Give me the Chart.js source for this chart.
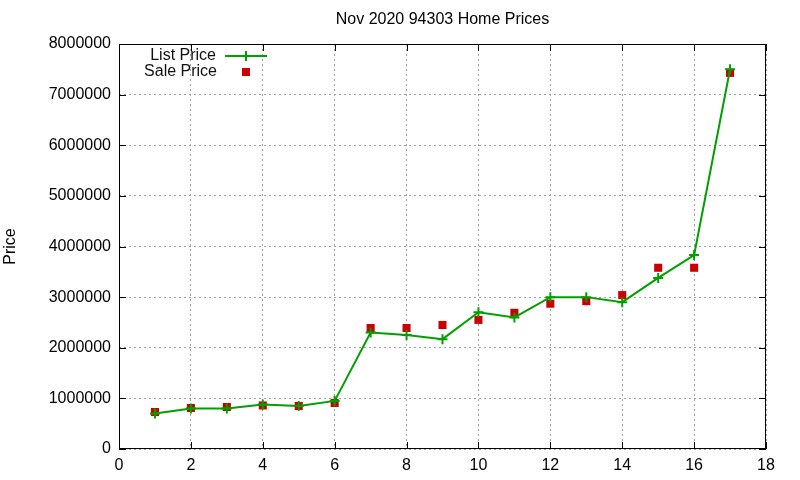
<!DOCTYPE html>
<html>
<head>
<meta charset="utf-8">
<script src="https://cdn.jsdelivr.net/npm/chart.js@4/dist/chart.umd.min.js"></script>
<style>
  html, body { margin: 0; padding: 0; background: #fff; }
  #wrap { width: 800px; height: 480px; }
</style>
</head>
<body>
<div id="wrap"><canvas id="priceChart"></canvas></div>
<script>
const titleText = "Nov 2020 94303 Home Prices";
const homeIndex = [1, 2, 3, 4, 5, 6, 7, 8, 9, 10, 11, 12, 13, 14, 15, 16, 17];
const listPrice = [700000, 800000, 800000, 880000, 850000, 950000, 2300000, 2250000, 2170000,
  2700000, 2600000, 3000000, 3000000, 2900000, 3380000, 3830000, 7500000];
const salePrice = [730000, 810000, 830000, 860000, 850000, 910000, 2390000, 2390000, 2450000,
  2550000, 2690000, 2870000, 2920000, 3040000, 3580000, 3580000, 7430000];

const FONT = "'Liberation Sans', Arial, sans-serif";
const FSIZE = 16;
const GREEN = "#00a000";
const RED = "#cc0000";

const toPoints = (vals) => homeIndex.map((x, i) => ({ x: x, y: vals[i] }));

// gnuplot-like frame: border, inward ticks on all four sides, title and key
const framePlugin = {
  id: "frame",
  afterDraw(chart) {
    const ctx = chart.ctx;
    const a = chart.chartArea;
    const xs = chart.scales.x, ys = chart.scales.y;
    ctx.save();
    ctx.strokeStyle = "#000";
    ctx.lineWidth = 1;
    ctx.strokeRect(a.left + 0.5, a.top + 0.5, a.right - a.left - 1, a.bottom - a.top - 1);
    ctx.beginPath();
    xs.ticks.forEach(t => {
      const px = Math.round(xs.getPixelForValue(t.value)) + 0.5;
      ctx.moveTo(px, a.bottom); ctx.lineTo(px, a.bottom - 7);
      ctx.moveTo(px, a.top); ctx.lineTo(px, a.top + 7);
    });
    ys.ticks.forEach(t => {
      const py = Math.round(ys.getPixelForValue(t.value)) + 0.5;
      ctx.moveTo(a.left, py); ctx.lineTo(a.left + 7, py);
      ctx.moveTo(a.right, py); ctx.lineTo(a.right - 7, py);
    });
    ctx.stroke();

    ctx.fillStyle = "#000";
    ctx.font = FSIZE + "px " + FONT;
    ctx.textAlign = "center";
    ctx.textBaseline = "middle";
    ctx.fillText(titleText, (a.left + a.right) / 2, 20);

    // key
    const ds = chart.data.datasets;
    ctx.textAlign = "right";
    ctx.fillStyle = "#111";
    ctx.fillText(ds[0].label, 216, 56);
    ctx.fillText(ds[1].label, 217, 72);
    ctx.strokeStyle = GREEN;
    ctx.lineWidth = 2;
    ctx.beginPath();
    ctx.moveTo(225, 56); ctx.lineTo(267, 56);
    ctx.moveTo(246, 51); ctx.lineTo(246, 61);
    ctx.stroke();
    ctx.fillStyle = RED;
    ctx.fillRect(242, 68, 8, 8);
    ctx.restore();
  }
};

new Chart(document.getElementById("priceChart"), {
  type: "scatter",
  data: {
    datasets: [
      {
        label: "List Price",
        data: toPoints(listPrice),
        showLine: true,
        borderColor: GREEN,
        backgroundColor: GREEN,
        borderWidth: 2,
        pointStyle: "cross",
        pointRadius: 5,
        pointBorderWidth: 2,
        pointHoverRadius: 5
      },
      {
        label: "Sale Price",
        data: toPoints(salePrice),
        showLine: false,
        borderColor: RED,
        backgroundColor: RED,
        pointStyle: "rect",
        pointRadius: 5.7,
        pointBorderWidth: 0,
        pointHoverRadius: 5.7
      }
    ]
  },
  options: {
    responsive: true,
    maintainAspectRatio: false,
    animation: false,
    layout: { padding: { top: 44, right: 34, left: 0, bottom: 0 } },
    plugins: {
      legend: { display: false },
      title: { display: false },
      tooltip: { enabled: false }
    },
    scales: {
      x: {
        type: "linear",
        min: 0,
        max: 18,
        ticks: {
          stepSize: 2,
          color: "#000",
          padding: 7,
          font: { family: FONT, size: FSIZE },
          callback: (v) => String(v)
        },
        grid: {
          color: "#a0a0a0",
          drawTicks: false
        },
        border: { display: false, dash: [2, 3] },
        afterFit(scale) { scale.height = 31; }
      },
      y: {
        min: 0,
        max: 8000000,
        ticks: {
          stepSize: 1000000,
          color: "#000",
          padding: 8,
          font: { family: FONT, size: FSIZE },
          callback: (v) => String(v)
        },
        grid: {
          color: "#a0a0a0",
          drawTicks: false
        },
        border: { display: false, dash: [2, 3] },
        title: {
          display: true,
          text: "Price",
          color: "#000",
          padding: { top: 1, bottom: 0 },
          font: { family: FONT, size: FSIZE }
        },
        afterFit(scale) { scale.width = 119; }
      }
    }
  },
  plugins: [framePlugin]
});
</script>
</body>
</html>
